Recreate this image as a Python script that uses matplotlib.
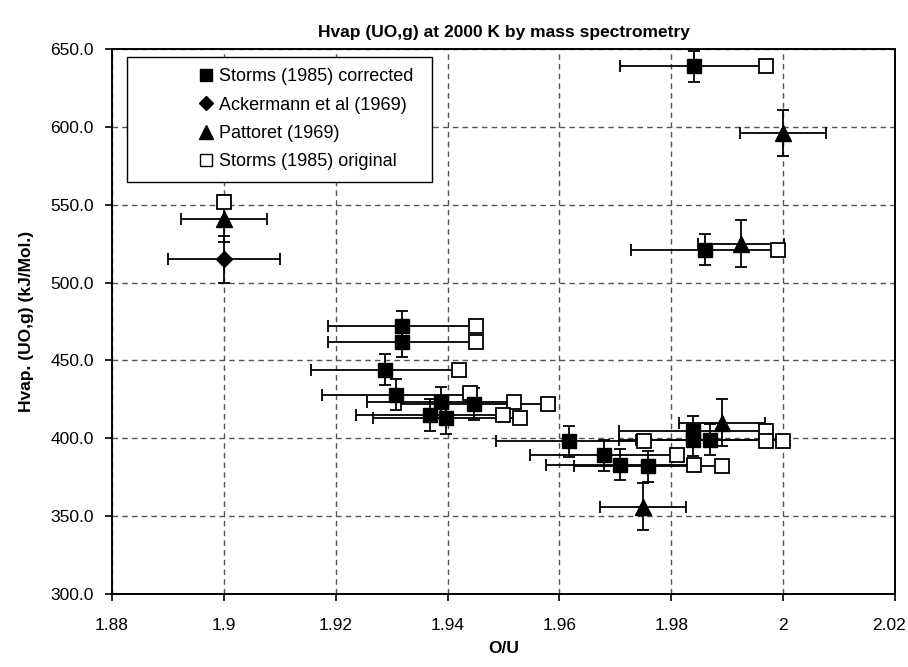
import matplotlib
matplotlib.use("Agg")
import matplotlib.pyplot as plt
from matplotlib.patches import Rectangle
from matplotlib.lines import Line2D
from matplotlib.transforms import ScaledTranslation

plt.rcParams["font.family"] = ["Liberation Sans", "DejaVu Sans"]

# Storms (1985) corrected, with error bars
storms_cor_x = [1.984, 1.986, 1.9318, 1.9318, 1.9288, 1.9308, 1.9388, 1.9448, 1.9369,
                1.9398, 1.9618, 1.9679, 1.9708, 1.9758, 1.9839, 1.9839, 1.9869]
storms_cor_y = [639, 521, 472, 462, 444, 428, 423, 422, 415,
                413, 398, 389, 383, 382, 404.5, 398.7, 399]
storms_cor_xerr = 0.0132
storms_cor_yerr = 10

# Storms (1985) original
storms_orig_x = [1.997, 1.999, 1.9451, 1.9451, 1.942, 1.944, 1.9519, 1.958, 1.950,
                 1.953, 1.9751, 1.981, 1.984, 1.989, 1.997, 1.997, 2.000, 1.9]
storms_orig_y = [639, 521, 472, 462, 444, 429, 423, 422, 415,
                 413, 398, 389, 383, 382, 404.5, 398.5, 398.5, 552]

# Pattoret (1969)
pattoret_x = [1.9, 2.0, 1.9925, 1.989, 1.975]
pattoret_y = [541, 596, 525, 410, 356]
pattoret_xerr = 0.0077
pattoret_yerr = 15

# Ackermann et al (1969)
ackermann_x = [1.9]
ackermann_y = [515]
ackermann_xerr = 0.01
ackermann_yerr = 15

x_ticks = [1.88, 1.9, 1.92, 1.94, 1.96, 1.98, 2.0, 2.02]
x_tick_labels = ["1.88", "1.9", "1.92", "1.94", "1.96", "1.98", "2", "2.02"]
y_ticks = [300, 350, 400, 450, 500, 550, 600, 650]

fig = plt.figure(figsize=(9.08, 6.67), dpi=100)
ax = fig.add_axes([0.1233, 0.1094, 0.8624, 0.8171])

eb = dict(fmt="none", ecolor="black", elinewidth=1.3, capsize=4, capthick=1.3, zorder=2)
ax.errorbar(storms_cor_x, storms_cor_y, xerr=storms_cor_xerr, yerr=storms_cor_yerr, **eb)
ax.errorbar(pattoret_x, pattoret_y, xerr=pattoret_xerr, yerr=pattoret_yerr, **eb)
ax.errorbar(ackermann_x, ackermann_y, xerr=ackermann_xerr, yerr=ackermann_yerr, **eb)

ax.plot(storms_orig_x, storms_orig_y, ls="none", marker="s", ms=10, mfc="white",
        mec="black", mew=1.3, zorder=3)
ax.plot(storms_cor_x, storms_cor_y, ls="none", marker="s", ms=10, mfc="black",
        mec="black", zorder=4)
ax.plot(pattoret_x, pattoret_y, ls="none", marker="^", ms=11, mfc="black",
        mec="black", zorder=4)
ax.plot(ackermann_x, ackermann_y, ls="none", marker="D", ms=8, mfc="black",
        mec="black", zorder=4)

ax.set_xlim(1.88, 2.02)
ax.set_ylim(300, 650)
ax.set_xticks(x_ticks)
ax.set_xticklabels(x_tick_labels)
ax.set_yticks(y_ticks)
ax.set_yticklabels(["{:.1f}".format(v) for v in y_ticks])
ax.tick_params(direction="out", length=5, width=1.2, labelsize=12.5)
ax.tick_params(axis="x", pad=12)
ax.tick_params(axis="y", pad=8)
# keep the last x label inside the canvas
last = ax.get_xticklabels()[-1]
last.set_transform(last.get_transform() + ScaledTranslation(-4 / 72, 0, fig.dpi_scale_trans))

ax.grid(True, color="#555555", ls=(0, (4, 3)), lw=1.0)
ax.set_axisbelow(True)
for s in ax.spines.values():
    s.set_linewidth(1.4)
    s.set_color("black")

ax.set_title("Hvap (UO,g) at 2000 K by mass spectrometry", fontsize=12.5,
             fontweight="bold", pad=9)
ax.set_xlabel("O/U", fontsize=12.5, fontweight="bold", labelpad=6)
ax.set_ylabel("Hvap. (UO,g) (kJ/Mol.)", fontsize=12.5, fontweight="bold", labelpad=12)

# legend: Excel style box with wide left margin
ax.add_patch(Rectangle((0.019, 0.756), 0.39, 0.229, transform=ax.transAxes,
                       facecolor="white", edgecolor="black", lw=1.0, zorder=5))
handles = [
    Line2D([], [], ls="none", marker="s", ms=9, mfc="black", mec="black"),
    Line2D([], [], ls="none", marker="D", ms=7, mfc="black", mec="black"),
    Line2D([], [], ls="none", marker="^", ms=10, mfc="black", mec="black"),
    Line2D([], [], ls="none", marker="s", ms=9, mfc="white", mec="black", mew=1.0),
]
labels = ["Storms (1985) corrected", "Ackermann et al (1969)", "Pattoret (1969)",
          "Storms (1985) original"]
leg = ax.legend(handles, labels, loc="upper left", bbox_to_anchor=(0.095, 0.988),
                frameon=False, fontsize=13, handlelength=0.8, handletextpad=0.3,
                labelspacing=0.63, borderpad=0.2)
leg.set_zorder(6)

fig.savefig("out.png", dpi=100)
